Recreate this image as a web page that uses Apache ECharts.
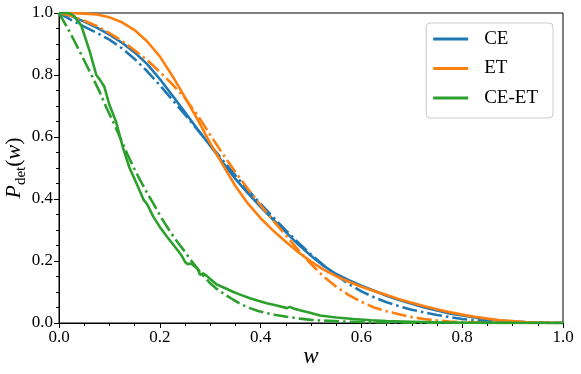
<!DOCTYPE html>
<html>
<head>
<meta charset="utf-8">
<script src="https://cdn.jsdelivr.net/npm/echarts@6/dist/echarts.min.js"></script>
<style>
html,body{margin:0;padding:0;background:#fff;}
#chart{width:581px;height:374px;}
</style>
</head>
<body>
<div id="chart"></div>
<script>
// ---- data ----
const wMain = [0,0.025,0.05,0.075,0.1,0.125,0.15,0.175,0.2,0.225,0.25,0.275,0.3,0.325,0.35,0.375,0.4,0.425,0.45,0.475,0.5,0.525,0.55,0.575,0.6,0.625,0.65,0.675,0.7,0.725,0.75,0.775,0.8,0.825,0.85,0.875,0.9,0.925,0.95,0.975,1.0];

const pCE = [1.0,0.99,0.972,0.953,0.93,0.904,0.873,0.835,0.787,0.734,0.68,0.625,0.572,0.518,0.465,0.418,0.375,0.333,0.293,0.253,0.217,0.184,0.158,0.138,0.12,0.104,0.088,0.074,0.062,0.05,0.04,0.031,0.024,0.018,0.012,0.008,0.005,0.003,0.0015,0.0005,0];
const pCEfit = [1.0,0.977,0.956,0.936,0.914,0.886,0.852,0.812,0.767,0.72,0.672,0.623,0.575,0.525,0.476,0.429,0.384,0.341,0.299,0.259,0.221,0.186,0.154,0.126,0.102,0.083,0.067,0.054,0.043,0.034,0.026,0.019,0.013,0.009,0.006,0.004,0.002,0.001,0.0005,0,0];
const pET = [1.0,1.0,0.998,0.995,0.986,0.97,0.945,0.908,0.86,0.797,0.728,0.656,0.58,0.51,0.442,0.385,0.338,0.298,0.262,0.228,0.198,0.172,0.151,0.133,0.117,0.103,0.09,0.077,0.065,0.054,0.044,0.035,0.027,0.02,0.014,0.009,0.006,0.003,0.0015,0.0005,0];
const pETfit = [1.0,0.99,0.975,0.958,0.935,0.91,0.88,0.848,0.81,0.77,0.725,0.67,0.607,0.545,0.487,0.432,0.38,0.33,0.283,0.235,0.19,0.15,0.117,0.09,0.068,0.05,0.038,0.028,0.019,0.013,0.008,0.005,0.003,0.002,0.001,0.0005,0,0,0,0,0];

const wCEET = [0,0.02,0.03,0.044,0.061,0.074,0.081,0.09,0.1,0.113,0.127,0.14,0.148,0.158,0.168,0.175,0.187,0.2,0.214,0.228,0.24,0.245,0.25,0.255,0.262,0.268,0.275,0.28,0.286,0.293,0.3,0.313,0.33,0.346,0.362,0.379,0.395,0.412,0.43,0.452,0.458,0.465,0.478,0.5,0.518,0.55,0.584,0.62,0.65,0.7,0.75,0.8,0.9,1.0];
const pCEET = [1.0,1.0,0.99,0.96,0.876,0.80,0.785,0.762,0.704,0.65,0.565,0.5,0.472,0.435,0.397,0.383,0.343,0.31,0.279,0.25,0.225,0.213,0.197,0.19,0.192,0.184,0.175,0.155,0.16,0.152,0.142,0.124,0.112,0.1,0.09,0.08,0.072,0.064,0.057,0.048,0.052,0.047,0.041,0.032,0.024,0.018,0.013,0.009,0.006,0.004,0.002,0.001,0.0003,0];

const wCEETfit = [0,0.021,0.041,0.061,0.08,0.094,0.11,0.122,0.135,0.148,0.161,0.174,0.187,0.2,0.214,0.23,0.247,0.263,0.28,0.3,0.313,0.33,0.346,0.362,0.379,0.395,0.412,0.43,0.452,0.478,0.5,0.52,0.56,0.6,0.7,0.8,1.0];
const pCEETfit = [1.0,0.94,0.876,0.811,0.748,0.695,0.64,0.595,0.547,0.502,0.461,0.422,0.386,0.348,0.311,0.272,0.236,0.2,0.165,0.128,0.11,0.091,0.075,0.06,0.048,0.039,0.032,0.026,0.02,0.014,0.01,0.008,0.005,0.003,0.001,0,0];

const xTicks = [0.0,0.2,0.4,0.6,0.8,1.0];
const legendNames = ['CE','ET','CE-ET'];
const colors = {CE:'#1f77b4', ET:'#ff7f0e', 'CE-ET':'#2ca02c'};

// ---- build ----
const zip = (w,p) => w.map((x,i)=>[x,p[i]]);
const FONT = 'Liberation Serif';
const dashDot = [15,4,2.5,4];
const LW = 2.6;

function solid(name, w, p){
  return {name, type:'line', data: zip(w,p), symbol:'none', showSymbol:false,
    lineStyle:{color:colors[name], width:LW}, itemStyle:{color:colors[name]}, z:3};
}
function fit(name, key, w, p){
  return {name, type:'line', data: zip(w,p), symbol:'none', showSymbol:false,
    lineStyle:{color:colors[key], width:LW, type:dashDot, cap:'butt'}, itemStyle:{color:colors[key]}, z:3};
}

const chart = echarts.init(document.getElementById('chart'), null, {renderer:'canvas'});
chart.setOption({
  animation:false,
  backgroundColor:'#fff',
  grid:{left:59, right:18, top:13, bottom:51, outerBoundsMode:'none', containLabel:false,
    show:true, borderColor:'#000', borderWidth:1, backgroundColor:'transparent'},
  legend:{
    data:legendNames.map(n=>({name:n, icon:'rect'})), orient:'vertical', right:28, top:23,
    itemWidth:35, itemHeight:3, itemGap:9.5,
    padding:[6,15,10,7],
    borderColor:'#cccccc', borderWidth:1, borderRadius:4, backgroundColor:'rgba(255,255,255,0.8)',
    textStyle:{fontFamily:FONT, fontSize:19, color:'#000', lineHeight:20, padding:[0,0,0,11]}
  },
  xAxis:{
    type:'value', min:0, max:1, interval:0.2,
    name:'w', nameLocation:'middle', nameGap:22, nameMoveOverlap:false,
    nameTextStyle:{fontFamily:FONT, fontStyle:'italic', fontSize:23, color:'#000'},
    axisLine:{show:true, onZero:false, lineStyle:{color:'#000', width:1}},
    axisTick:{show:true, inside:false, length:5, lineStyle:{color:'#000', width:1}},
    minorTick:{show:true, splitNumber:4, length:3, lineStyle:{color:'#000', width:1}},
    splitLine:{show:false},
    axisLabel:{fontFamily:FONT, fontSize:17, color:'#000', margin:6,
      formatter:(v)=> xTicks.some(t=>Math.abs(t-v)<1e-9) ? v.toFixed(1) : ''}
  },
  yAxis:{
    type:'value', min:0, max:1, interval:0.2,
    name:'{i|P}{s|det}{r|(}{i|w}{r|)}', nameLocation:'middle', nameGap:30, nameMoveOverlap:false,
    nameTextStyle:{fontFamily:FONT, fontSize:22, color:'#000',
      rich:{
        i:{fontFamily:FONT, fontStyle:'italic', fontSize:22, lineHeight:30, color:'#000'},
        r:{fontFamily:FONT, fontSize:22, lineHeight:30, color:'#000'},
        s:{fontFamily:FONT, fontSize:15, lineHeight:15, verticalAlign:'bottom', color:'#000'}
      }},
    axisLine:{show:true, onZero:false, lineStyle:{color:'#000', width:1}},
    axisTick:{show:true, inside:false, length:5, lineStyle:{color:'#000', width:1}},
    minorTick:{show:true, splitNumber:4, length:3, lineStyle:{color:'#000', width:1}},
    splitLine:{show:false},
    axisLabel:{fontFamily:FONT, fontSize:17, color:'#000', margin:6, formatter:(v)=>v.toFixed(1)}
  },
  series:[
    solid('CE', wMain, pCE),
    fit('CE fit', 'CE', wMain, pCEfit),
    solid('ET', wMain, pET),
    fit('ET fit', 'ET', wMain, pETfit),
    solid('CE-ET', wCEET, pCEET),
    fit('CE-ET fit', 'CE-ET', wCEETfit, pCEETfit)
  ]
});
</script>
</body>
</html>
